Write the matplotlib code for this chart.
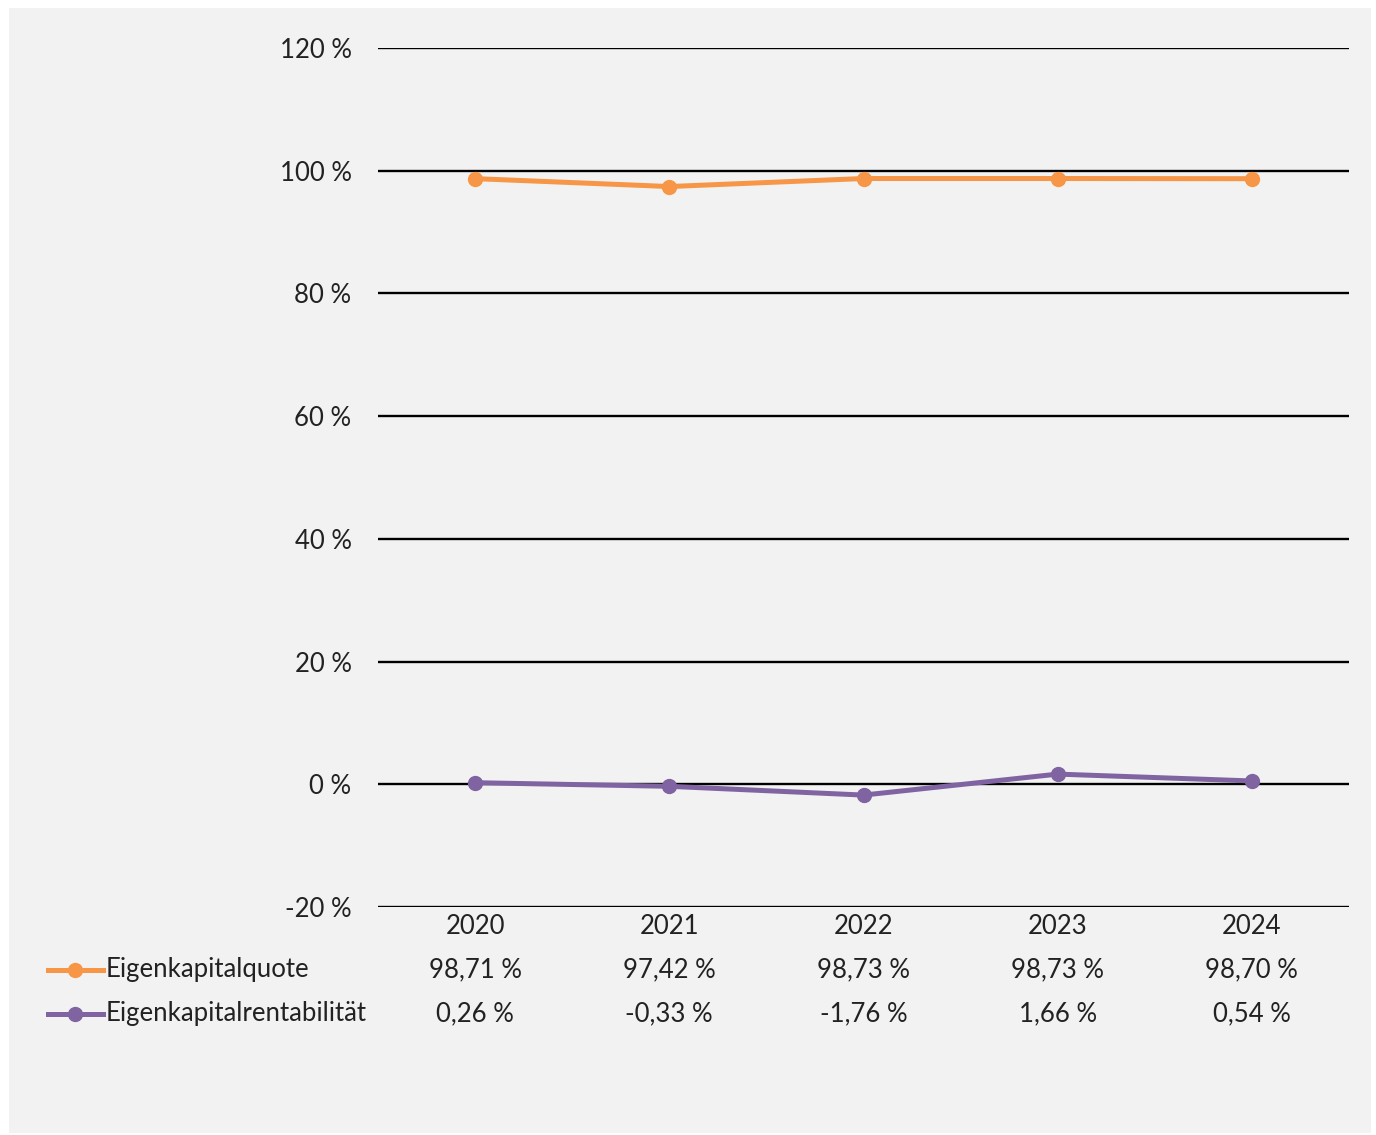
import matplotlib.pyplot as plt
from matplotlib.lines import Line2D
from matplotlib.patches import Rectangle

plt.rcParams['font.family'] = ['Lato', 'DejaVu Sans']

years = ['2020', '2021', '2022', '2023', '2024']
quote = [98.71, 97.42, 98.73, 98.73, 98.70]
rentab = [0.26, -0.33, -1.76, 1.66, 0.54]
series_names = ['Eigenkapitalquote', 'Eigenkapitalrentabilität']
yticks = [-20, 0, 20, 40, 60, 80, 100, 120]

c_orange = '#F79646'
c_purple = '#8064A2'

W, H = 1376, 1135
fig = plt.figure(figsize=(W / 100, H / 100), dpi=100, facecolor='white')

# grey panel
fig.add_artist(Rectangle((9 / W, 1 - 1133 / H), (1371 - 9) / W, (1133 - 8) / H,
                         transform=fig.transFigure, facecolor='#f2f2f2',
                         edgecolor='none', zorder=-10))

ax = fig.add_axes([378 / W, 1 - 907 / H, (1349 - 378) / W, (907 - 48) / H])
ax.set_facecolor('none')

x = list(range(len(years)))
ax.plot(x, quote, color=c_orange, lw=3.6, marker='o', ms=10, zorder=3)
ax.plot(x, rentab, color=c_purple, lw=3.6, marker='o', ms=10, zorder=3)

fs = 18.5
ax.set_xlim(-0.5, len(years) - 0.5)
ax.set_ylim(-20, 120)
ax.set_yticks(yticks)
ax.set_yticklabels([f'{t} %' for t in yticks], fontsize=fs, color='#222222')
ax.tick_params(axis='y', length=0, pad=19)
ax.set_xticks([])
for s in ax.spines.values():
    s.set_visible(False)
for t in yticks:
    ax.axhline(t, color='black', lw=1.7, zorder=1)

# data table
tr = ax.get_xaxis_transform()
def yfrac(py):
    return (907 - py) / (907 - 48)

for i, yr in enumerate(years):
    ax.text(i, yfrac(927), yr, transform=tr, ha='center', va='center',
            fontsize=fs, color='#222222', clip_on=False)
    ax.text(i, yfrac(970), f'{quote[i]:.2f} %'.replace('.', ','), transform=tr,
            ha='center', va='center', fontsize=fs, color='#222222', clip_on=False)
    ax.text(i, yfrac(1014), f'{rentab[i]:.2f} %'.replace('.', ','), transform=tr,
            ha='center', va='center', fontsize=fs, color='#222222', clip_on=False)

for py, name, col in [(970, series_names[0], c_orange), (1014, series_names[1], c_purple)]:
    yf = 1 - py / H
    fig.add_artist(Line2D([48 / W, 103 / W], [yf, yf], transform=fig.transFigure,
                          color=col, lw=3.6))
    fig.add_artist(Line2D([75 / W], [yf], transform=fig.transFigure,
                          color=col, marker='o', ms=10))
    fig.text(106 / W, yf, name, ha='left', va='center', fontsize=fs, color='#222222')

fig.savefig('out.png', dpi=100, facecolor='white')
